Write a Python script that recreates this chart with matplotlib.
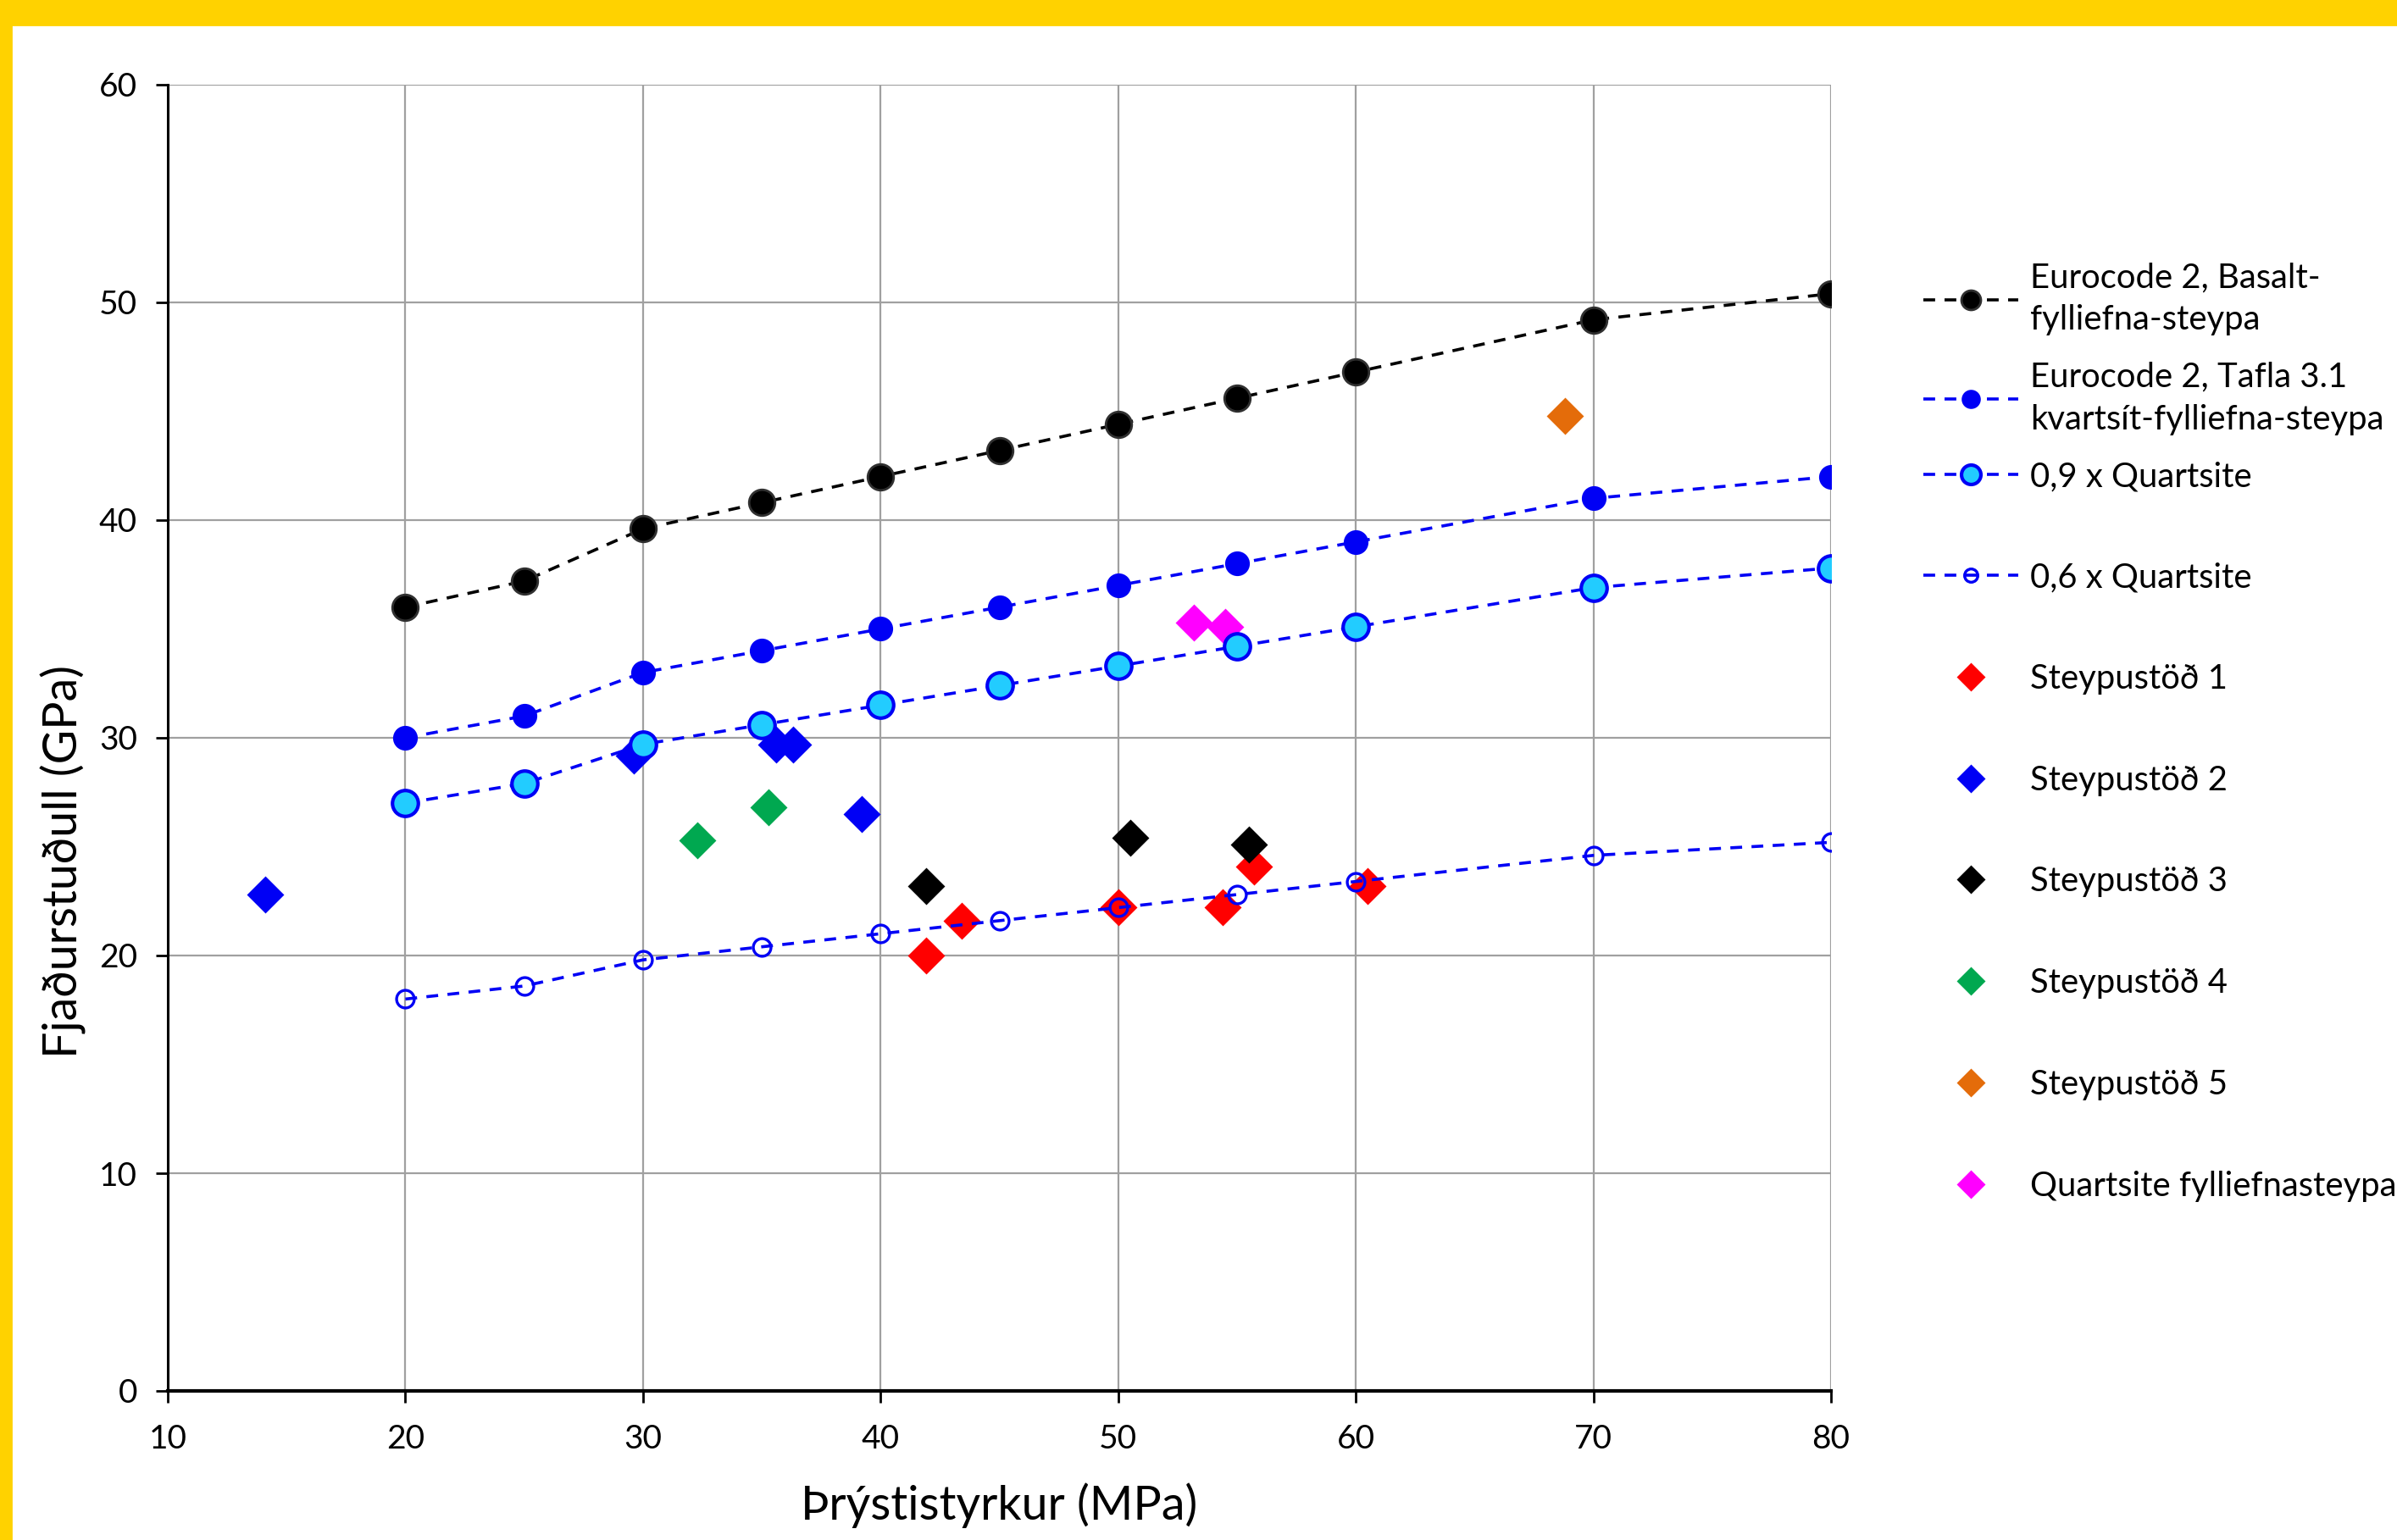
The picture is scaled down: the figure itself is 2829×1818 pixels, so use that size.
import numpy as np
import matplotlib
matplotlib.use('Agg')
import matplotlib.pyplot as plt
from matplotlib.patches import Rectangle

plt.rcParams['font.family'] = ['Lato', 'DejaVu Sans']
plt.rcParams['lines.scale_dashes'] = False

# strength classes (MPa) and modulus curves (GPa)
fck = [20, 25, 30, 35, 40, 45, 50, 55, 60, 70, 80]
ec_basalt = [36.0, 37.2, 39.6, 40.8, 42.0, 43.2, 44.4, 45.6, 46.8, 49.2, 50.4]
ec_tafla = [30, 31, 33, 34, 35, 36, 37, 38, 39, 41, 42]
q09 = [27.0, 27.9, 29.7, 30.6, 31.5, 32.4, 33.3, 34.2, 35.1, 36.9, 37.8]
q06 = [18.0, 18.6, 19.8, 20.4, 21.0, 21.6, 22.2, 22.8, 23.4, 24.6, 25.2]

# measured points
st1_x = [41.9, 43.4, 50.0, 54.4, 55.7, 60.5]
st1_y = [20.0, 21.6, 22.2, 22.2, 24.1, 23.2]
st2_x = [14.1, 29.6, 35.6, 36.3, 39.2]
st2_y = [22.8, 29.2, 29.7, 29.7, 26.5]
st3_x = [41.9, 50.5, 55.5]
st3_y = [23.2, 25.4, 25.1]
st4_x = [32.3, 35.3]
st4_y = [25.3, 26.8]
st5_x = [68.8]
st5_y = [44.8]
qf_x = [53.2, 54.5]
qf_y = [35.3, 35.1]

W, H = 2829, 1818
fig = plt.figure(figsize=(W / 200, H / 200), dpi=200)
fig.patch.set_facecolor('white')
ax = fig.add_axes([198 / W, 1 - 1642 / H, (2161 - 198) / W, (1642 - 100) / H])

dash = (5, 4)
blue = '#0000F5'
l1, = ax.plot(fck, ec_basalt, ls='--', dashes=dash, color='black', lw=1.3,
              marker='o', ms=11, mfc='black', mec='#303030', zorder=4)
l2, = ax.plot(fck, ec_tafla, ls='--', dashes=dash, color=blue, lw=1.3,
              marker='o', ms=9.5, mfc=blue, mec=blue, zorder=4)
l3, = ax.plot(fck, q09, ls='--', dashes=dash, color=blue, lw=1.3,
              marker='o', ms=11, mfc='#22CCFF', mec=blue, mew=1.5, zorder=4)
l4, = ax.plot(fck, q06, ls='--', dashes=dash, color=blue, lw=1.3,
              marker='o', ms=7.5, mfc='none', mec=blue, mew=1.2, zorder=4)

ms_d = 10
s1, = ax.plot(st1_x, st1_y, ls='none', marker='D', ms=ms_d, color='#FF0000', zorder=3)
s2, = ax.plot(st2_x, st2_y, ls='none', marker='D', ms=ms_d, color=blue, zorder=3)
s3, = ax.plot(st3_x, st3_y, ls='none', marker='D', ms=ms_d, color='black', zorder=3)
s4, = ax.plot(st4_x, st4_y, ls='none', marker='D', ms=ms_d, color='#00A850', zorder=3)
s5, = ax.plot(st5_x, st5_y, ls='none', marker='D', ms=ms_d, color='#E46C0A', zorder=3)
s6, = ax.plot(qf_x, qf_y, ls='none', marker='D', ms=ms_d, color='#FF00FF', zorder=3)

ax.set_xlim(10, 80)
ax.set_ylim(0, 60)
ax.set_xticks(range(10, 81, 10))
ax.set_yticks(range(0, 61, 10))
ax.grid(True, color='#A0A0A0', lw=0.8)
ax.set_axisbelow(True)
for s in ['top', 'right']:
    ax.spines[s].set_visible(False)
ax.spines['left'].set_linewidth(1.1)
ax.spines['bottom'].set_linewidth(1.5)
ax.tick_params(axis='both', direction='out', length=5, width=1.0, labelsize=14)
ax.tick_params(axis='y', pad=8)
ax.tick_params(axis='x', pad=9)

ax.set_xlabel('Þrýstistyrkur (MPa)', fontsize=20, labelpad=12)
ax.set_ylabel('Fjaðurstuðull (GPa)', fontsize=20)
ax.yaxis.set_label_coords(-0.049, 0.405)

leg_kw = dict(frameon=False, fontsize=14.4, handlelength=2.8, handletextpad=0.35,
              borderpad=0, borderaxespad=0, markerscale=0.75, loc='upper left')
leg1 = fig.legend([l1, l2, l3],
                  ['Eurocode 2, Basalt-\nfylliefna-steypa',
                   'Eurocode 2, Tafla 3.1\nkvartsít-fylliefna-steypa',
                   '0,9 x Quartsite'],
                  bbox_to_anchor=(2270 / W, 1 - 309 / H), labelspacing=0.75, **leg_kw)
for t in leg1.get_texts():
    t.set_linespacing(1.45)
leg2 = fig.legend([l4, s1, s2, s3, s4, s5, s6],
                  ['0,6 x Quartsite', 'Steypustöð 1', 'Steypustöð 2', 'Steypustöð 3',
                   'Steypustöð 4', 'Steypustöð 5', 'Quartsite fylliefnasteypa'],
                  bbox_to_anchor=(2270 / W, 1 - 663 / H), labelspacing=2.07, **leg_kw)

# yellow frame strips
fig.patches.append(Rectangle((0, 1 - 29 / H), 1, 29 / H, transform=fig.transFigure,
                             color='#FFD200', zorder=10))
fig.patches.append(Rectangle((0, 0), 13 / W, 1, transform=fig.transFigure,
                             color='#FFD200', zorder=10))

fig.savefig('out.png', dpi=200)
